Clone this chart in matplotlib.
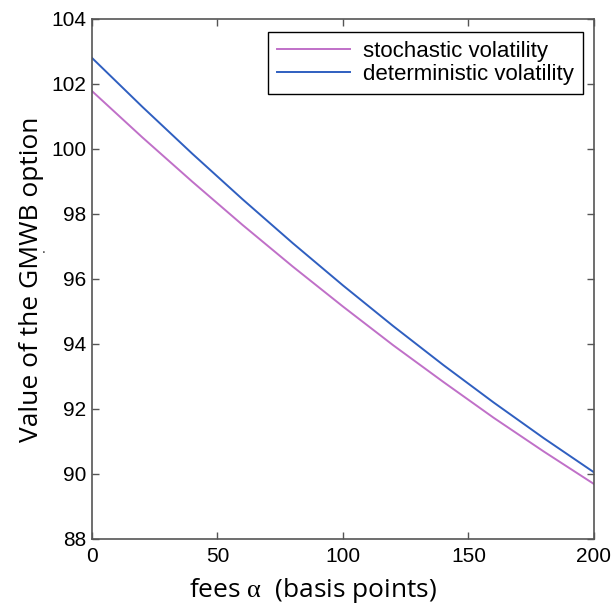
import matplotlib
matplotlib.use('Agg')
import matplotlib.pyplot as plt
import numpy as np

# 数据
fees = [0, 20, 40, 60, 80, 100, 120, 140, 160, 180, 200]
stochastic = [101.78, 100.36, 98.99, 97.66, 96.38, 95.15, 93.96, 92.83, 91.73, 90.69, 89.69]
deterministic = [102.80, 101.30, 99.85, 98.45, 97.10, 95.80, 94.55, 93.35, 92.20, 91.10, 90.05]

x_ticks = [0, 50, 100, 150, 200]
y_ticks = [88, 90, 92, 94, 96, 98, 100, 102, 104]

# ----- 绘图 -----
plt.rcParams['font.family'] = ['Liberation Sans', 'DejaVu Sans']
plt.rcParams['mathtext.fontset'] = 'custom'
plt.rcParams['mathtext.rm'] = 'Liberation Serif'
plt.rcParams['mathtext.it'] = 'Liberation Serif:italic'

fig = plt.figure(figsize=(6.13, 6.09), dpi=100)
ax = fig.add_axes([0.150, 0.115, 0.819, 0.854])

ax.plot(fees, stochastic, color='#c070c8', linewidth=1.4, label='stochastic volatility')
ax.plot(fees, deterministic, color='#2f5fc0', linewidth=1.4, label='deterministic volatility')

ax.set_xlim(0, 200)
ax.set_ylim(88, 104)
ax.set_xticks(x_ticks)
ax.set_yticks(y_ticks)
ax.tick_params(direction='in', top=True, right=True, length=5, width=1,
               color='#555555', labelsize=15)
ax.tick_params(axis='x', pad=6)
ax.tick_params(axis='y', pad=4)
for s in ax.spines.values():
    s.set_color('#555555')
    s.set_linewidth(1.2)

ax.set_xlabel(r'fees $\mathrm{\alpha}$  (basis points)', fontsize=19, family='Open Sans')
ax.xaxis.set_label_coords(0.44, -0.072)
ax.set_ylabel('Value of the GMWB option', fontsize=19, family='Open Sans')
ax.yaxis.set_label_coords(-0.095, 0.5)
fig.text(0.068, 0.585, '.', fontsize=10, color='#333333')

leg = ax.legend(loc='upper right', bbox_to_anchor=(0.978, 0.975), borderaxespad=0,
                fontsize=16, frameon=True, fancybox=False, edgecolor='black',
                framealpha=1, handlelength=3.3, borderpad=0.4, labelspacing=0.1,
                handletextpad=0.6)
leg.get_frame().set_linewidth(1.0)

fig.savefig('out.png', dpi=100)
